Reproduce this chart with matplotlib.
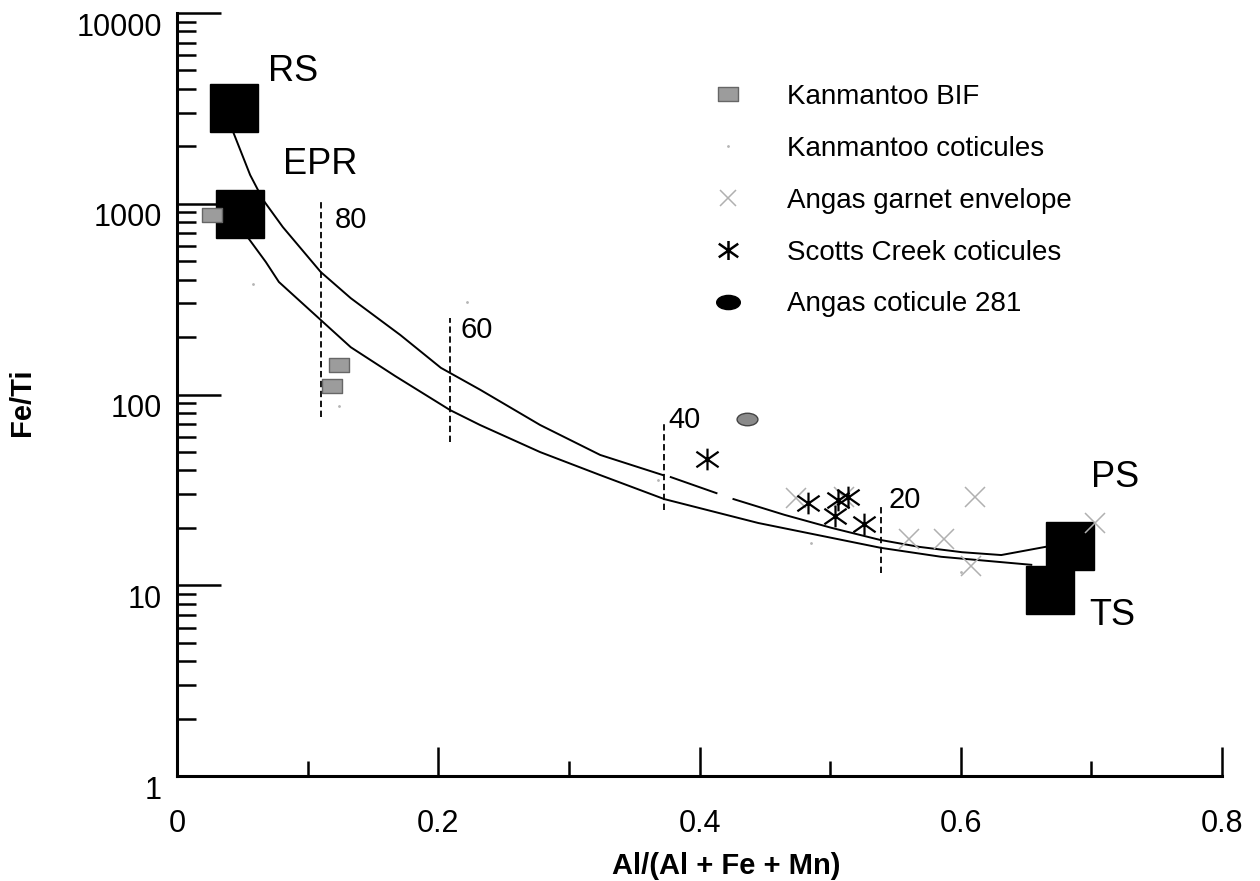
import numpy as np
import matplotlib.pyplot as plt
from matplotlib.lines import Line2D
from matplotlib.path import Path
from matplotlib.transforms import Affine2D, ScaledTranslation
from matplotlib.ticker import FixedLocator, NullFormatter, LogLocator

plt.rcParams['font.family'] = ['Liberation Sans', 'DejaVu Sans']

# end-member fields (big black squares)
end_names = ["RS", "EPR", "PS", "TS"]
end_x = [0.044, 0.048, 0.684, 0.668]
end_fe_ti = [3160, 884, 16.1, 9.4]

# Kanmantoo BIF
bif_x = [0.027, 0.124, 0.119]
bif_fe_ti = [870, 143, 111]

# Kanmantoo coticules
kc_x = [0.058, 0.124, 0.222, 0.368, 0.485, 0.600]
kc_fe_ti = [379, 87, 305, 35.6, 16.7, 11.7]

# Angas garnet envelope
age_x = [0.474, 0.511, 0.560, 0.587, 0.608, 0.611, 0.703]
age_fe_ti = [28.7, 29.0, 17.5, 17.5, 12.6, 29.0, 21.2]

# Scotts Creek coticules
sc_x = [0.406, 0.483, 0.506, 0.514, 0.504, 0.526]
sc_fe_ti = [45.9, 27.0, 28.0, 29.0, 23.1, 20.9]

# Angas coticule 281
a281_x = [0.436]
a281_fe_ti = [74.4]

# mixing curves RS -> PS (with the small breaks) and EPR -> TS
upper_x = [0.043, 0.056, 0.066, 0.081, 0.110, 0.133, 0.171, 0.202, 0.232, 0.278,
           0.324, 0.372, np.nan, 0.378, 0.413, np.nan, 0.426, 0.465, 0.501, 0.538,
           0.568, 0.601, 0.631, 0.665]
upper_fe_ti = [2378, 1415, 1046, 755, 439, 320, 205, 138, 106, 69.2,
               48.2, 37.8, np.nan, 36.9, 30.4, np.nan, 28.3, 23.4, 20.0, 17.3,
               15.9, 14.9, 14.4, 15.9]
lower_x = [0.054, 0.068, 0.078, 0.110, 0.133, 0.167, 0.209, 0.232, 0.278, 0.324,
           0.373, 0.445, 0.539, 0.585, 0.654]
lower_fe_ti = [669, 495, 389, 246, 177, 125, 82.9, 69.2, 49.9, 37.8,
               28.3, 21.2, 15.7, 14.1, 12.8]

# isopleths (dashed verticals)
iso_labels = ["80", "60", "40", "20"]
iso_x = [0.110, 0.209, 0.373, 0.539]
iso_top = [1034, 252, 70.9, 25.7]
iso_bottom = [76.2, 56.4, 24.8, 11.6]

x_ticks = [0, 0.2, 0.4, 0.6, 0.8]
x_ticklabels = ["0", "0.2", "0.4", "0.6", "0.8"]
x_minor = [0.1, 0.3, 0.5, 0.7]
y_ticks = [1, 10, 100, 1000, 10000]
y_ticklabels = ["1", "10", "100", "1000", "10000"]

# custom marker shapes
a = np.deg2rad(35)
asterisk = Path([(-np.cos(a), -np.sin(a)), (np.cos(a), np.sin(a)),
                 (-np.cos(a), np.sin(a)), (np.cos(a), -np.sin(a)),
                 (0, -0.8), (0, 0.8)],
                [Path.MOVETO, Path.LINETO] * 3)
ellipse = Path.unit_circle().transformed(Affine2D().scale(1, 0.6))
rect = Path.unit_rectangle().transformed(Affine2D().translate(-0.5, -0.5).scale(1, 0.72))

fig = plt.figure(figsize=(12.6, 8.81), dpi=100)
ax = fig.add_axes([177 / 1260, 105 / 881, 1045 / 1260, 763 / 881])
ax.set_yscale('log')
ax.set_xlim(0, 0.8)
ax.set_ylim(1, 10000)

# curves
ax.plot(upper_x, upper_fe_ti, color='black', lw=1.4, zorder=2)
ax.plot(lower_x, lower_fe_ti, color='black', lw=1.4, zorder=2)

# isopleths
for i in range(len(iso_x)):
    ax.plot([iso_x[i], iso_x[i]], [iso_bottom[i], iso_top[i]], color='black',
            lw=1.3, dashes=(3.5, 2), zorder=2)
iso_text_pos = [(0.121, 822), (0.217, 218), (0.376, 73.5), (0.545, 28.0)]
for lab, (tx, ty) in zip(iso_labels, iso_text_pos):
    ax.text(tx, ty, lab, fontsize=21, ha='left', va='center')

# end members
ax.plot(end_x, end_fe_ti, 's', color='black', markersize=34, zorder=3)
end_text_pos = [(0.0698, 4906), (0.0813, 1597), (0.700, 36.5), (0.698, 6.98)]
for name, (tx, ty) in zip(end_names, end_text_pos):
    ax.text(tx, ty, name, fontsize=26, ha='left', va='center')

# sample groups
ax.plot(bif_x, bif_fe_ti, linestyle='none', marker=rect, markersize=15,
        markerfacecolor='#9c9c9c', markeredgecolor='#666666', zorder=4)
ax.plot(kc_x, kc_fe_ti, linestyle='none', marker='.', markersize=2,
        color='#b5b5b5', zorder=4)
ax.plot(age_x, age_fe_ti, linestyle='none', marker='x', markersize=15,
        markeredgewidth=1.1, color='#b0b0b0', zorder=4)
ax.plot(sc_x, sc_fe_ti, linestyle='none', marker=asterisk, markersize=16,
        markeredgewidth=1.6, markerfacecolor='none', markeredgecolor='black', zorder=5)
ax.plot(a281_x, a281_fe_ti, linestyle='none', marker=ellipse, markersize=15,
        markerfacecolor='#8a8a8a', markeredgecolor='#444444', zorder=4)

# legend
handles = [
    Line2D([], [], linestyle='none', marker=rect, markersize=15,
           markerfacecolor='#9c9c9c', markeredgecolor='#666666'),
    Line2D([], [], linestyle='none', marker='.', markersize=2, color='#b5b5b5'),
    Line2D([], [], linestyle='none', marker='x', markersize=12,
           markeredgewidth=1.1, color='#b0b0b0'),
    Line2D([], [], linestyle='none', marker=asterisk, markersize=14,
           markeredgewidth=1.8, markeredgecolor='black'),
    Line2D([], [], linestyle='none', marker=ellipse, markersize=17, color='black'),
]
labels = ["Kanmantoo BIF", "Kanmantoo coticules", "Angas garnet envelope",
          "Scotts Creek coticules", "Angas coticule 281"]
ax.legend(handles, labels, loc='upper left', bbox_to_anchor=(714 / 1260, 1 - 84 / 881),
          bbox_transform=fig.transFigure, frameon=False, fontsize=20,
          labelspacing=0.93, handlelength=1.0, handletextpad=1.63,
          borderpad=0, borderaxespad=0, numpoints=1)

# axes styling
for side in ['top', 'right']:
    ax.spines[side].set_visible(False)
ax.spines['left'].set_linewidth(2.2)
ax.spines['bottom'].set_linewidth(2.2)

ax.xaxis.set_major_locator(FixedLocator(x_ticks))
ax.set_xticklabels(x_ticklabels)
ax.xaxis.set_minor_locator(FixedLocator(x_minor))
ax.xaxis.set_minor_formatter(NullFormatter())
ax.tick_params(axis='x', which='major', direction='in', length=21, width=1.8,
               pad=24, labelsize=22)
ax.tick_params(axis='x', which='minor', direction='in', length=11, width=1.8)

ax.set_yticks(y_ticks)
ax.set_yticklabels(y_ticklabels)
ax.yaxis.set_minor_locator(LogLocator(base=10, subs=range(2, 10)))
ax.yaxis.set_minor_formatter(NullFormatter())
ax.tick_params(axis='y', which='major', direction='in', length=32, width=1.8,
               pad=11, labelsize=22)
ax.tick_params(axis='y', which='minor', direction='in', length=14, width=1.8)

# the y labels sit a little below their ticks in the original
offset = ScaledTranslation(0, -8 / 72, fig.dpi_scale_trans)
for lab in ax.get_yticklabels():
    lab.set_transform(lab.get_transform() + offset)

fig.text(22 / 1260, 1 - 402 / 881, "Fe/Ti", rotation=90, fontsize=21,
         fontweight='bold', ha='center', va='center')
fig.text(726 / 1260, 1 - 866 / 881, "Al/(Al + Fe + Mn)", fontsize=21,
         fontweight='bold', ha='center', va='center')

fig.savefig("out.png", dpi=100)
